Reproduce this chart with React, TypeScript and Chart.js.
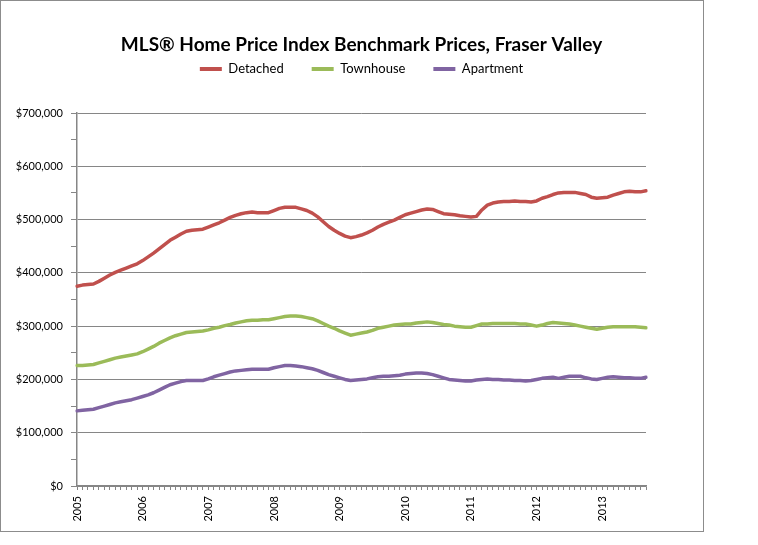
import { useEffect, useRef } from 'react';
import { Chart, registerables } from 'chart.js';

Chart.register(...registerables);

const years = ['2005', '2006', '2007', '2008', '2009', '2010', '2011', '2012', '2013'];
const monthNames = ['Jan', 'Feb', 'Mar', 'Apr', 'May', 'Jun', 'Jul', 'Aug', 'Sep', 'Oct', 'Nov', 'Dec'];
const categories = years.flatMap((y) => monthNames.map((m) => `${m} ${y}`)).slice(0, 105);

const detached = [
  375000, 377000, 378000, 379000, 384000, 390000, 396000, 401000, 405000, 409000, 413000, 417000,
  423000, 430000, 437000, 445000, 453000, 461000, 467000, 473000, 478000, 480000, 481000, 482000,
  486000, 490000, 494000, 499000, 504000, 508000, 511000, 513000, 514000, 513000, 513000, 513000,
  517000, 521000, 523000, 523000, 523000, 520000, 517000, 512000, 505000, 496000, 487000, 480000,
  474000, 469000, 466000, 468000, 471000, 475000, 480000, 486000, 491000, 495000, 499000, 504000,
  509000, 512000, 515000, 518000, 520000, 519000, 515000, 511000, 510000, 509000, 507000, 506000,
  505000, 506000, 518000, 527000, 531000, 533000, 534000, 534000, 535000, 534000, 534000, 533000,
  535000, 540000, 543000, 547000, 550000, 551000, 551000, 551000, 549000, 547000, 542000, 540000,
  541000, 542000, 546000, 549000, 552000, 553000, 552000, 552000, 554000,
];

const townhouse = [
  226000, 226000, 227000, 228000, 231000, 234000, 237000, 240000, 242000, 244000, 246000, 248000,
  252000, 257000, 262000, 268000, 273000, 278000, 282000, 285000, 288000, 289000, 290000, 291000,
  293000, 296000, 298000, 301000, 303000, 306000, 308000, 310000, 311000, 311000, 312000, 312000,
  314000, 316000, 318000, 319000, 319000, 318000, 316000, 314000, 310000, 305000, 300000, 296000,
  291000, 287000, 283000, 285000, 287000, 289000, 292000, 296000, 298000, 300000, 302000, 303000,
  304000, 304000, 306000, 307000, 308000, 307000, 305000, 303000, 302000, 300000, 299000, 298000,
  298000, 301000, 304000, 304000, 305000, 305000, 305000, 305000, 305000, 304000, 304000, 302000,
  300000, 302000, 305000, 307000, 306000, 305000, 304000, 302000, 300000, 298000, 296000, 294000,
  296000, 298000, 299000, 299000, 299000, 299000, 299000, 298000, 297000,
];

const apartment = [
  141000, 142000, 143000, 144000, 147000, 150000, 153000, 156000, 158000, 160000, 162000, 165000,
  168000, 171000, 175000, 180000, 185000, 190000, 193000, 196000, 198000, 198000, 198000, 198000,
  201000, 205000, 208000, 211000, 214000, 216000, 217000, 218000, 219000, 219000, 219000, 219000,
  222000, 224000, 226000, 226000, 225000, 224000, 222000, 220000, 217000, 213000, 209000, 206000,
  203000, 200000, 198000, 199000, 200000, 201000, 203000, 205000, 206000, 206000, 207000, 208000,
  210000, 211000, 212000, 212000, 211000, 209000, 206000, 203000, 200000, 199000, 198000, 197000,
  197000, 199000, 200000, 201000, 200000, 200000, 199000, 199000, 198000, 198000, 197000, 198000,
  200000, 202000, 203000, 204000, 202000, 204000, 206000, 206000, 206000, 203000, 201000, 200000,
  202000, 204000, 205000, 204000, 203000, 203000, 202000, 202000, 204000,
];

const seriesNames = ['Detached', 'Townhouse', 'Apartment'];
const seriesColors = ['#C0504D', '#9BBB59', '#8064A2'];
const titleText = 'MLS\u00AE Home Price Index Benchmark Prices, Fraser Valley';

const FONT = 'Lato, "Open Sans", "Noto Sans", sans-serif';
const GRID = '#868686';

export default function App() {
  const ref = useRef<HTMLCanvasElement | null>(null);

  useEffect(() => {
    if (!ref.current) return;
    const values = [detached, townhouse, apartment];
    const chart = new Chart(ref.current, {
      type: 'line',
      data: {
        labels: categories,
        datasets: seriesNames.map((name, i) => ({
          label: name,
          data: values[i],
          borderColor: seriesColors[i],
          backgroundColor: seriesColors[i],
          borderWidth: 3.5,
          pointRadius: 0,
          pointHoverRadius: 0,
          tension: 0,
          fill: false,
          borderCapStyle: 'round',
          borderJoinStyle: 'round',
        })),
      },
      options: {
        responsive: false,
        animation: false,
        events: [],
        layout: { padding: { left: 0, right: 57, top: 0, bottom: 0 } },
        plugins: {
          tooltip: { enabled: false },
          title: {
            display: true,
            text: titleText,
            fullSize: false,
            color: '#000',
            font: { family: FONT, size: 19, weight: 'bold', lineHeight: 1.2 },
            padding: { top: 32.6, bottom: -21.9 },
          },
          legend: {
            display: true,
            position: 'top',
            fullSize: false,
            labels: {
              color: '#000',
              font: { family: FONT, size: 13 },
              boxWidth: 22,
              boxHeight: 4,
              padding: 28,
              generateLabels: (c: any) =>
                Chart.defaults.plugins.legend.labels
                  .generateLabels(c)
                  .map((l: any) => ({ ...l, lineWidth: 0, fillStyle: l.strokeStyle })),
            },
          },
          subtitle: {
            display: true,
            text: '',
            weight: 500,
            fullSize: false,
            font: { family: FONT, size: 10, lineHeight: 1 },
            padding: { top: 17.5, bottom: 0 },
          },
        },
        scales: {
          x: {
            type: 'category',
            afterFit: (axis: any) => {
              axis.height = 45;
            },
            grid: {
              drawOnChartArea: false,
              drawTicks: true,
              tickLength: 4,
              color: GRID,
            },
            border: { display: true, color: GRID, width: 1.5 },
            ticks: {
              autoSkip: false,
              minRotation: 90,
              maxRotation: 90,
              padding: 6,
              color: '#000',
              font: { family: FONT, size: 11 },
              callback: (_v: any, i: number) => (i % 12 === 0 ? years[i / 12] : ''),
            },
          },
          y: {
            min: 0,
            max: 700000,
            afterFit: (axis: any) => {
              axis.width = 76;
            },
            grid: {
              color: (ctx: any) => (ctx.tick && ctx.tick.value % 100000 === 0 ? GRID : 'rgba(0,0,0,0)'),
              tickColor: GRID,
              tickLength: 6,
              drawTicks: true,
            },
            border: { display: true, color: GRID, width: 1.5 },
            ticks: {
              stepSize: 50000,
              padding: 8,
              color: '#000',
              font: { family: FONT, size: 11 },
              callback: (v: any) =>
                Number(v) % 100000 === 0 ? '$' + Number(v).toLocaleString('en-US') : '',
            },
          },
        },
      },
    } as any);
    return () => chart.destroy();
  }, []);

  return (
    <div
      style={{
        position: 'absolute',
        left: 0,
        top: 0,
        width: 702,
        height: 530,
        border: '1px solid #8c8c8c',
        background: '#fff',
      }}
    >
      <canvas ref={ref} width={702} height={530} style={{ display: 'block' }} />
    </div>
  );
}
